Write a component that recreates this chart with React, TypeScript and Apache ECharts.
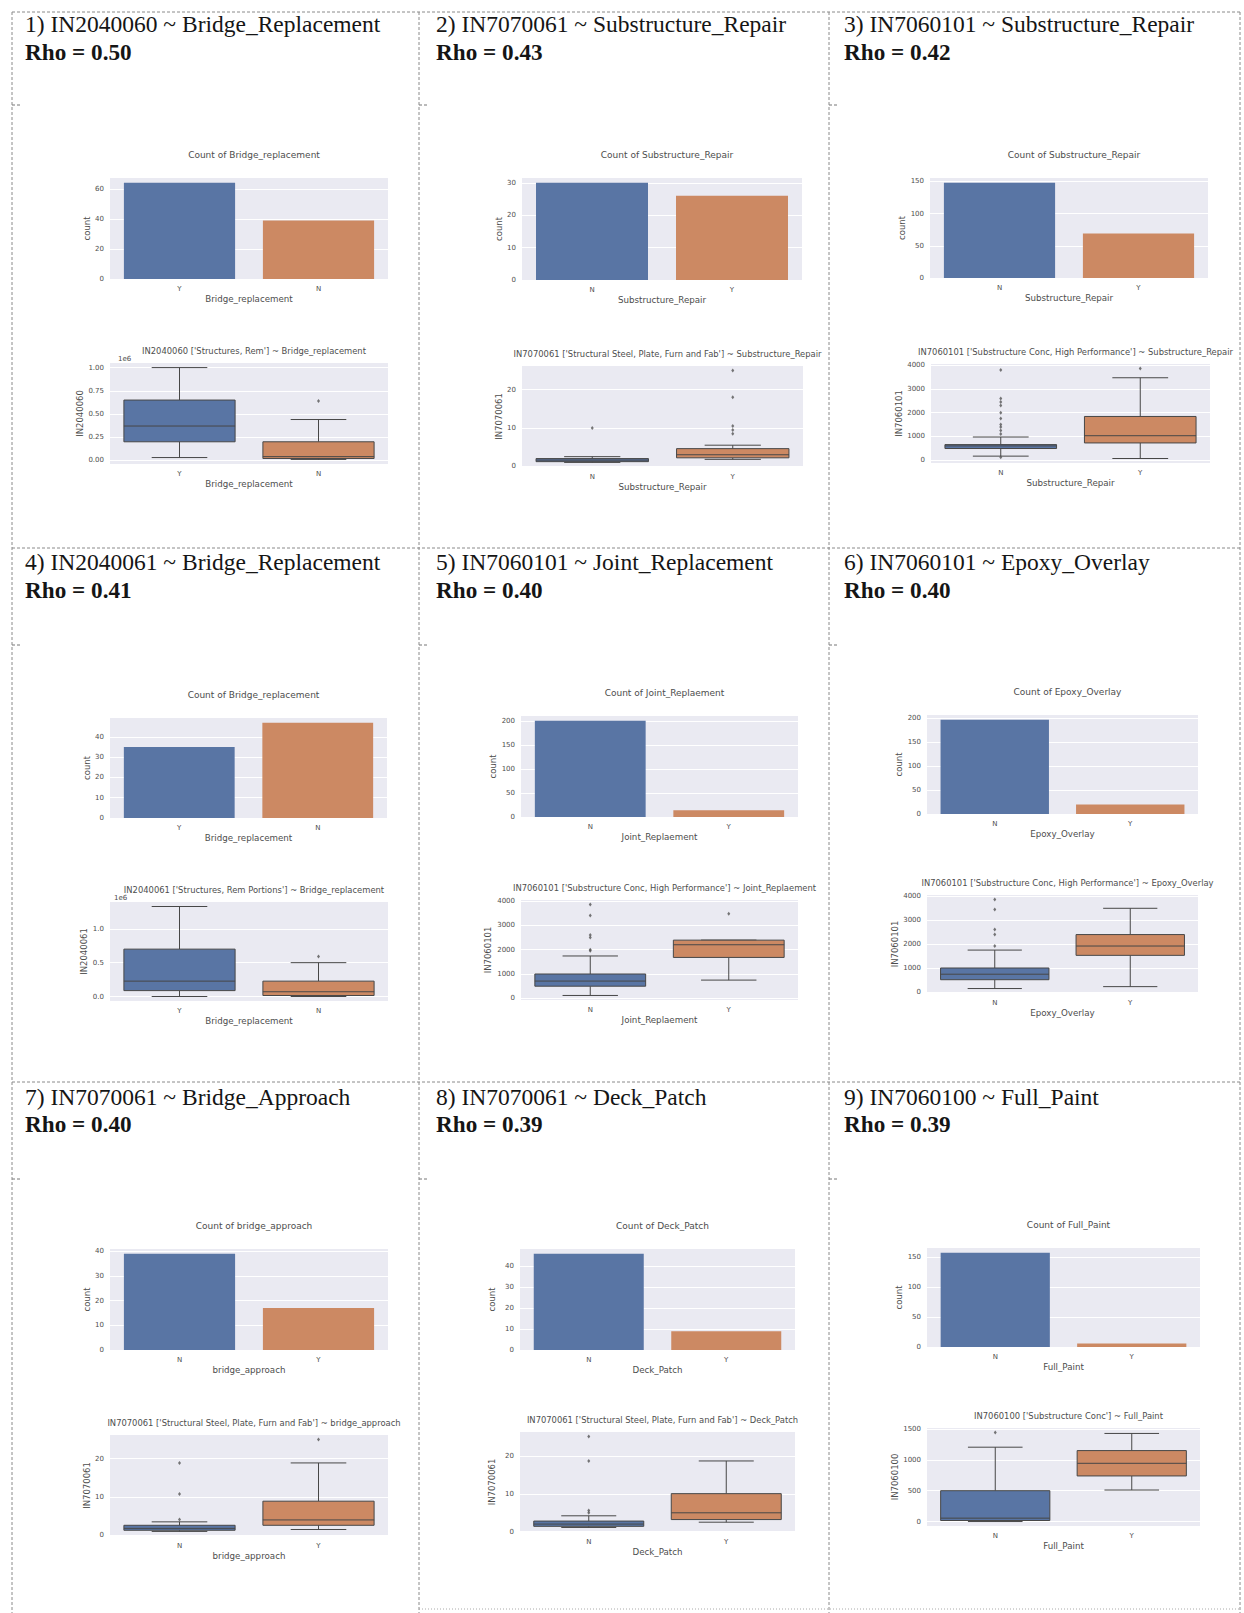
import React, { useEffect, useRef } from "react";
import * as echarts from "echarts";

// ---- Panel headings -------------------------------------------------------
const headings = [
  "1) IN2040060 ~ Bridge_Replacement",
  "2) IN7070061 ~ Substructure_Repair",
  "3) IN7060101 ~ Substructure_Repair",
  "4) IN2040061 ~ Bridge_Replacement",
  "5) IN7060101 ~ Joint_Replacement",
  "6) IN7060101 ~ Epoxy_Overlay",
  "7) IN7070061 ~ Bridge_Approach",
  "8) IN7070061 ~ Deck_Patch",
  "9) IN7060100 ~ Full_Paint",
];
const rhoValues = [0.5, 0.43, 0.42, 0.41, 0.4, 0.4, 0.4, 0.39, 0.39];

// ---- Variables per panel ---------------------------------------------------
const activityNames = [
  "Bridge_replacement",
  "Substructure_Repair",
  "Substructure_Repair",
  "Bridge_replacement",
  "Joint_Replaement",
  "Epoxy_Overlay",
  "bridge_approach",
  "Deck_Patch",
  "Full_Paint",
];
const itemCodes = [
  "IN2040060",
  "IN7070061",
  "IN7060101",
  "IN2040061",
  "IN7060101",
  "IN7060101",
  "IN7070061",
  "IN7070061",
  "IN7060100",
];
const itemDescriptions = [
  "Structures, Rem",
  "Structural Steel, Plate, Furn and Fab",
  "Substructure Conc, High Performance",
  "Structures, Rem Portions",
  "Substructure Conc, High Performance",
  "Substructure Conc, High Performance",
  "Structural Steel, Plate, Furn and Fab",
  "Structural Steel, Plate, Furn and Fab",
  "Substructure Conc",
];
const categoryOrder = [
  ["Y", "N"],
  ["N", "Y"],
  ["N", "Y"],
  ["Y", "N"],
  ["N", "Y"],
  ["N", "Y"],
  ["N", "Y"],
  ["N", "Y"],
  ["N", "Y"],
];

// ---- Count plots -------------------------------------------------------------
const counts = [
  [64, 39],
  [30, 26],
  [148, 69],
  [35, 47],
  [200, 14],
  [197, 20],
  [39, 17],
  [46, 9],
  [157, 6],
];
const countTicks = [
  [0, 20, 40, 60],
  [0, 10, 20, 30],
  [0, 50, 100, 150],
  [0, 10, 20, 30, 40],
  [0, 50, 100, 150, 200],
  [0, 50, 100, 150, 200],
  [0, 10, 20, 30, 40],
  [0, 10, 20, 30, 40],
  [0, 50, 100, 150],
];

// ---- Box plots: [lower whisker, Q1, median, Q3, upper whisker] per category --
const boxStats = [
  [[0.03, 0.2, 0.37, 0.65, 1.0], [0.01, 0.02, 0.04, 0.2, 0.44]],
  [[1.0, 1.2, 1.6, 2.0, 2.5], [1.8, 2.2, 3.0, 4.6, 5.5]],
  [[170, 490, 600, 655, 975], [70, 725, 1030, 1840, 3470]],
  [[0.0, 0.087, 0.227, 0.7, 1.33], [0.0, 0.015, 0.07, 0.227, 0.5]],
  [[120, 500, 710, 1000, 1740], [750, 1680, 2200, 2390, 2390]],
  [[140, 510, 740, 1000, 1750], [220, 1530, 1920, 2400, 3500]],
  [[1.0, 1.3, 1.8, 2.6, 3.5], [1.5, 2.6, 4.0, 8.9, 18.9]],
  [[1.1, 1.4, 2.0, 2.8, 4.2], [2.5, 3.2, 5.0, 10.1, 18.8]],
  [[0, 17, 55, 500, 1205], [511, 739, 944, 1150, 1428]],
];
const boxOutliers = [
  [[], [0.64]],
  [[10], [8.5, 9.5, 10.5, 18, 25]],
  [[120, 1100, 1250, 1400, 1500, 1750, 2000, 2300, 2450, 2600, 3800], [3860]],
  [[], [0.59]],
  [[1950, 2000, 2500, 2600, 3400, 3850], [3470]],
  [[1920, 2400, 2610, 3450, 3870], []],
  [[4.1, 10.8, 18.9], [25]],
  [[5.0, 5.6, 18.8, 25.3], []],
  [[1444], []],
];
const boxTicks = [
  [0, 0.25, 0.5, 0.75, 1.0],
  [0, 10, 20],
  [0, 1000, 2000, 3000, 4000],
  [0, 0.5, 1.0],
  [0, 1000, 2000, 3000, 4000],
  [0, 1000, 2000, 3000, 4000],
  [0, 10, 20],
  [0, 10, 20],
  [0, 500, 1000, 1500],
];
const boxTickDecimals = [2, 0, 0, 1, 0, 0, 0, 0, 0];
const offsetLabels = ["1e6", "", "", "1e6", "", "", "", "", ""];

// ---- Layout ---------------------------------------------------------------------
const PAGE_W = 1244;
const PAGE_H = 1613;
const COL_X = [12, 419, 829, 1240];
const ROW_Y = [12, 548, 1082];
const HEAD_X = [25, 436, 844];
const HEAD_BASE = [32, 570, 1105];
const RHO_BASE = [60, 598, 1132];
const MARK_Y = [105, 645, 1179];
// [left, top, width, height]
const barRects = [
  [110, 178, 278, 101],
  [522, 178, 280, 102],
  [930, 178, 278, 100],
  [110, 718, 277, 100],
  [521, 716, 277, 101],
  [927, 715, 271, 99],
  [110, 1249, 278, 101],
  [520, 1249, 275, 101],
  [927, 1248, 273, 99],
];
const boxRects = [
  [110, 363, 278, 101],
  [522, 366, 281, 101],
  [931, 364, 279, 99],
  [110, 902, 278, 99],
  [521, 900, 277, 100],
  [927, 895, 271, 98],
  [110, 1435, 278, 101],
  [520, 1432, 275, 100],
  [927, 1428, 273, 98],
];
const countNameGaps = [17, 17, 24, 17.5, 23.5, 20.5, 18.5, 24, 21];
const boxNameGaps = [23.5, 16.5, 28, 18.5, 29, 25.5, 18.5, 24, 27];
const offsetLabelDx = [8, 0, 0, 4, 0, 0, 0, 0, 0];

const PALETTE = ["#5975A4", "#CC8963"];
const EDGE = "#474747";
const TEXT = "#4d4d4d";
const PLOT_BG = "#EAEAF2";
const SANS = "DejaVu Sans";
const SERIF = "Liberation Serif";

function buildOption() {
  const grid: any[] = [];
  const xAxis: any[] = [];
  const yAxis: any[] = [];
  const series: any[] = [];
  const title: any[] = [];
  const graphic: any[] = [];

  const baseX = (gi: number, cats: string[], name: string) => ({
    type: "category",
    gridIndex: gi,
    data: cats,
    axisLine: { show: false },
    axisTick: { show: false },
    splitLine: { show: false },
    axisLabel: { fontSize: 7, color: TEXT, margin: 6, fontFamily: SANS },
    name,
    nameLocation: "middle",
    nameGap: 15,
    nameTextStyle: { fontSize: 8.7, color: TEXT, fontFamily: SANS },
  });

  const baseY = (
    gi: number,
    min: number,
    max: number,
    ticks: number[],
    dec: number,
    name: string,
    gap: number
  ) => ({
    type: "value",
    gridIndex: gi,
    min,
    max,
    axisLine: { show: false },
    axisTick: { show: false, customValues: ticks },
    axisLabel: {
      fontSize: 7,
      color: TEXT,
      margin: 6,
      fontFamily: SANS,
      customValues: ticks,
      formatter: (v: number) => v.toFixed(dec),
    },
    splitLine: { show: true, lineStyle: { color: "#ffffff", width: 1 } },
    name,
    nameLocation: "middle",
    nameRotate: 90,
    nameGap: gap,
    nameTextStyle: { fontSize: 8.5, color: TEXT, fontFamily: SANS },
  });

  for (let i = 0; i < 9; i++) {
    const cats = categoryOrder[i];
    const bi = 2 * i;
    const xi = 2 * i + 1;

    // --- count plot ---
    const [bl, bt, bw, bh] = barRects[i];
    grid.push({
      left: bl,
      top: bt,
      width: bw,
      height: bh,
      show: true,
      backgroundColor: PLOT_BG,
      borderWidth: 0,
    });
    xAxis.push(baseX(bi, cats, activityNames[i]));
    const cMax = Math.max(...counts[i]) * 1.05;
    yAxis.push(baseY(bi, 0, cMax, countTicks[i], 0, "count", countNameGaps[i]));
    series.push({
      type: "bar",
      xAxisIndex: bi,
      yAxisIndex: bi,
      barWidth: "80%",
      data: counts[i].map((v, j) => ({ value: v, itemStyle: { color: PALETTE[j] } })),
    });
    title.push({
      text: `Count of ${activityNames[i]}`,
      left: bl + bw / 2,
      top: bt - 33,
      textAlign: "center",
      textStyle: { fontSize: 9, fontWeight: "normal", color: TEXT, fontFamily: SANS },
    });

    // --- box plot ---
    const [xl, xt, xw, xh] = boxRects[i];
    grid.push({
      left: xl,
      top: xt,
      width: xw,
      height: xh,
      show: true,
      backgroundColor: PLOT_BG,
      borderWidth: 0,
    });
    xAxis.push(baseX(xi, cats, activityNames[i]));
    const all: number[] = [];
    boxStats[i].forEach((s) => all.push(...s));
    boxOutliers[i].forEach((o) => all.push(...o));
    const lo = Math.min(...all);
    const hi = Math.max(...all);
    const pad = (hi - lo) * 0.05;
    yAxis.push(
      baseY(xi, lo - pad, hi + pad, boxTicks[i], boxTickDecimals[i], itemCodes[i], boxNameGaps[i])
    );
    series.push({
      type: "custom",
      xAxisIndex: xi,
      yAxisIndex: xi,
      encode: { x: 0, y: [1, 2, 3, 4, 5] },
      data: boxStats[i].map((s, j) => [j, ...s]),
      renderItem: (params: any, api: any) => {
        const j = api.value(0);
        const pLo = api.coord([j, api.value(1)]);
        const pQ1 = api.coord([j, api.value(2)]);
        const pMed = api.coord([j, api.value(3)]);
        const pQ3 = api.coord([j, api.value(4)]);
        const pHi = api.coord([j, api.value(5)]);
        const band = api.size([1, 0])[0];
        const w = band * 0.8;
        const cap = w * 0.5;
        const cx = pMed[0];
        const ls = { stroke: EDGE, lineWidth: 1 };
        return {
          type: "group",
          children: [
            { type: "line", shape: { x1: cx, y1: pQ3[1], x2: cx, y2: pHi[1] }, style: ls },
            { type: "line", shape: { x1: cx, y1: pQ1[1], x2: cx, y2: pLo[1] }, style: ls },
            { type: "line", shape: { x1: cx - cap / 2, y1: pHi[1], x2: cx + cap / 2, y2: pHi[1] }, style: ls },
            { type: "line", shape: { x1: cx - cap / 2, y1: pLo[1], x2: cx + cap / 2, y2: pLo[1] }, style: ls },
            {
              type: "rect",
              shape: { x: cx - w / 2, y: pQ3[1], width: w, height: Math.max(pQ1[1] - pQ3[1], 1) },
              style: { fill: PALETTE[j], stroke: EDGE, lineWidth: 1 },
            },
            { type: "line", shape: { x1: cx - w / 2, y1: pMed[1], x2: cx + w / 2, y2: pMed[1] }, style: ls },
          ],
        };
      },
    });
    const pts: number[][] = [];
    boxOutliers[i].forEach((o, j) => o.forEach((v) => pts.push([j, v])));
    series.push({
      type: "scatter",
      xAxisIndex: xi,
      yAxisIndex: xi,
      symbol: "diamond",
      symbolSize: [3, 4],
      itemStyle: { color: "#555555" },
      data: pts,
      z: 3,
    });
    title.push({
      text: `${itemCodes[i]} ['${itemDescriptions[i]}'] ~ ${activityNames[i]}`,
      left: xl + xw / 2,
      top: xt - 21,
      textAlign: "center",
      textStyle: { fontSize: 8.4, fontWeight: "normal", color: TEXT, fontFamily: SANS },
    });
    if (offsetLabels[i]) {
      graphic.push({
        type: "text",
        x: xl + offsetLabelDx[i],
        y: xt - 1,
        style: { text: offsetLabels[i], font: `7px "${SANS}"`, fill: TEXT, verticalAlign: "bottom" },
      });
    }

    // --- heading ---
    const r = Math.floor(i / 3);
    const c = i % 3;
    graphic.push({
      type: "text",
      x: HEAD_X[c],
      y: HEAD_BASE[r] - 8,
      style: { text: headings[i], font: `23.5px "${SERIF}"`, fill: "#151515", verticalAlign: "middle" },
    });
    graphic.push({
      type: "text",
      x: HEAD_X[c],
      y: RHO_BASE[r] - 8,
      style: {
        text: `Rho = ${rhoValues[i].toFixed(2)}`,
        font: `bold 23.2px "${SERIF}"`,
        fill: "#151515",
        verticalAlign: "middle",
      },
    });
    // small paragraph mark at the left of each cell
    graphic.push({
      type: "line",
      shape: { x1: COL_X[c], y1: MARK_Y[r], x2: COL_X[c] + 9, y2: MARK_Y[r] },
      style: { stroke: "#777777", lineWidth: 1, lineDash: [3, 2] },
    });
  }

  // dashed table borders
  const dash = { stroke: "#8a8a8a", lineWidth: 1, lineDash: [3, 2] };
  COL_X.forEach((x) => {
    graphic.push({ type: "line", shape: { x1: x, y1: ROW_Y[0], x2: x, y2: PAGE_H }, style: dash });
  });
  ROW_Y.forEach((y) => {
    graphic.push({ type: "line", shape: { x1: COL_X[0], y1: y, x2: COL_X[3], y2: y }, style: dash });
  });
  graphic.push({
    type: "line",
    shape: { x1: COL_X[1], y1: PAGE_H - 4, x2: COL_X[3], y2: PAGE_H - 4 },
    style: { stroke: "#aaaaaa", lineWidth: 1, lineDash: [1, 2] },
  });

  return {
    animation: false,
    backgroundColor: "#ffffff",
    textStyle: { fontFamily: SANS },
    title,
    grid,
    xAxis,
    yAxis,
    series,
    graphic: { elements: graphic },
  };
}

export default function App() {
  const ref = useRef<HTMLDivElement>(null);
  useEffect(() => {
    if (!ref.current) return;
    const chart = echarts.init(ref.current, undefined, { renderer: "svg" });
    chart.setOption(buildOption() as any);
    return () => chart.dispose();
  }, []);
  return (
    <div
      ref={ref}
      style={{ position: "absolute", left: 0, top: 0, width: PAGE_W, height: PAGE_H, background: "#fff" }}
    />
  );
}
